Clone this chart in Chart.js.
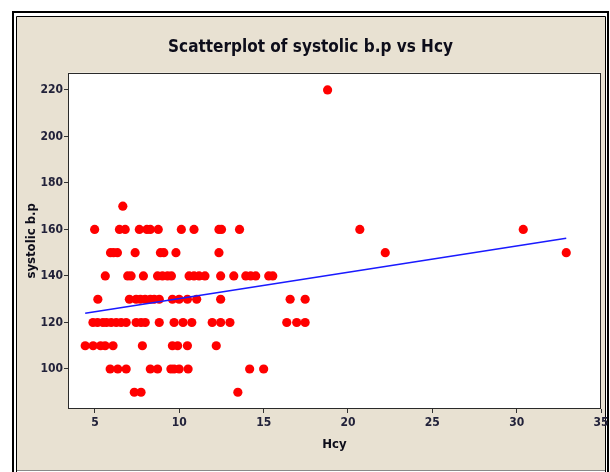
<!DOCTYPE html>
<html>
<head>
<meta charset="utf-8">
<script src="https://cdn.jsdelivr.net/npm/chart.js@4.4.1/dist/chart.umd.min.js"></script>
<style>
  html, body { margin: 0; padding: 0; background: #ffffff; }
  #wrap { width: 610px; height: 472px; position: relative; }
</style>
</head>
<body>
<div id="wrap"><canvas id="c" width="610" height="472"></canvas></div>
<script>
// ---- data ----
const hcy = [
  18.79,
  6.65,
  4.98, 6.45, 6.79, 7.63, 8.08, 8.28, 8.75, 10.12, 10.87, 12.35, 12.50, 13.57, 20.70, 30.39,
  5.92, 6.10, 6.33, 7.38, 8.88, 9.08, 9.80, 12.35, 22.21, 32.94,
  5.61, 6.94, 7.14, 7.87, 8.71, 9.00, 9.30, 9.53, 10.58, 10.87, 11.17, 11.52, 12.45, 13.23, 13.94, 14.23, 14.53, 15.30, 15.54,
  5.17, 7.04, 7.44, 7.69, 7.97, 8.28, 8.51, 8.81, 9.59, 9.99, 10.48, 11.03, 12.45, 16.57, 17.46,
  4.88, 5.15, 5.47, 5.68, 5.96, 6.26, 6.55, 6.85, 7.44, 7.73, 7.98, 8.81, 9.69, 10.22, 10.74, 11.95, 12.45, 13.00, 16.37, 16.96, 17.46,
  4.42, 4.89, 5.33, 5.60, 6.07, 7.81, 9.59, 9.90, 10.48, 12.19,
  5.90, 6.35, 6.85, 8.28, 8.71, 9.50, 9.69, 9.99, 10.52, 14.17, 15.00,
  7.33, 7.73, 13.47
];
const systolic = [
  220,
  170,
  160, 160, 160, 160, 160, 160, 160, 160, 160, 160, 160, 160, 160, 160,
  150, 150, 150, 150, 150, 150, 150, 150, 150, 150,
  140, 140, 140, 140, 140, 140, 140, 140, 140, 140, 140, 140, 140, 140, 140, 140, 140, 140, 140,
  130, 130, 130, 130, 130, 130, 130, 130, 130, 130, 130, 130, 130, 130, 130,
  120, 120, 120, 120, 120, 120, 120, 120, 120, 120, 120, 120, 120, 120, 120, 120, 120, 120, 120, 120, 120,
  110, 110, 110, 110, 110, 110, 110, 110, 110, 110,
  100, 100, 100, 100, 100, 100, 100, 100, 100, 100, 100,
  90, 90, 90
];
// fitted regression line
const fitIntercept = 119.0;
const fitSlope = 1.13;
const xTickValues = [5, 10, 15, 20, 25, 30, 35];
const yTickValues = [100, 120, 140, 160, 180, 200, 220];
const titleText = 'Scatterplot of systolic b.p vs Hcy';
const xTitle = 'Hcy';
const yTitle = 'systolic b.p';

// ---- build ----
const points = hcy.map((x, i) => ({ x: x, y: systolic[i] }));
const xMin = Math.min(...hcy), xMax = Math.max(...hcy);
const fitLine = [xMin, xMax].map(x => ({ x: x, y: fitIntercept + fitSlope * x }));

const FONT = "'DejaVu Sans Condensed', 'DejaVu Sans', sans-serif";
const BEIGE = '#e8e1d2';
const TICKCOL = '#22223a';

const framePlugin = {
  id: 'frame',
  beforeDraw(chart) {
    const ctx = chart.ctx;
    ctx.save();
    ctx.fillStyle = '#ffffff';
    ctx.fillRect(0, 0, 610, 472);
    ctx.fillStyle = BEIGE;
    ctx.fillRect(17, 17, 589, 453);
    ctx.strokeStyle = '#000000';
    ctx.lineWidth = 2;
    ctx.beginPath();
    ctx.moveTo(13, 472); ctx.lineTo(13, 12); ctx.lineTo(608, 12); ctx.lineTo(608, 472);
    ctx.stroke();
    ctx.lineWidth = 1;
    ctx.beginPath();
    ctx.moveTo(16.5, 472); ctx.lineTo(16.5, 16.5); ctx.lineTo(605.5, 16.5); ctx.lineTo(605.5, 472);
    ctx.stroke();
    ctx.strokeStyle = '#8a8a8a';
    ctx.beginPath();
    ctx.moveTo(17, 470.5); ctx.lineTo(605, 470.5);
    ctx.stroke();
    const a = chart.chartArea;
    ctx.fillStyle = '#ffffff';
    ctx.fillRect(a.left, a.top, a.right - a.left, a.bottom - a.top);
    ctx.restore();
  },
  afterDatasetsDraw(chart) {
    const ctx = chart.ctx;
    const a = chart.chartArea;
    ctx.save();
    ctx.strokeStyle = '#2a2a2a';
    ctx.lineWidth = 1;
    ctx.strokeRect(Math.round(a.left) + 0.5, Math.round(a.top) + 0.5,
                   Math.round(a.right - a.left) - 1, Math.round(a.bottom - a.top) - 1);
    ctx.restore();
  }
};

new Chart(document.getElementById('c'), {
  type: 'scatter',
  data: {
    datasets: [
      {
        type: 'line',
        data: fitLine,
        borderColor: '#1a1aff',
        borderWidth: 1.6,
        pointRadius: 0,
        fill: false,
        order: 0
      },
      {
        data: points,
        backgroundColor: '#ff0000',
        borderWidth: 0,
        pointRadius: 4.6,
        order: 1
      }
    ]
  },
  options: {
    responsive: false,
    animation: false,
    events: [],
    layout: { padding: { left: 20, right: 9, top: 37, bottom: 16 } },
    plugins: {
      legend: { display: false },
      tooltip: { enabled: false },
      title: {
        display: true,
        text: titleText,
        color: '#0d0d1a',
        font: { family: FONT, size: 17, weight: 'bold' },
        padding: { top: 0, bottom: 15.3 }
      }
    },
    scales: {
      x: {
        type: 'linear',
        min: 3.4,
        max: 35,
        afterBuildTicks(scale) { scale.ticks = xTickValues.map(v => ({ value: v })); },
        afterFit(scale) { scale.height = 47; scale.paddingRight = 0; scale.paddingLeft = 0; },
        grid: { drawOnChartArea: false, drawTicks: true, tickLength: 4, tickColor: '#333333' },
        border: { display: false },
        ticks: {
          color: TICKCOL, padding: 3, maxRotation: 0,
          font: { family: FONT, size: 12, weight: 'bold' },
          callback: v => String(v)
        },
        title: {
          display: true, text: xTitle, color: '#0d0d1a',
          font: { family: FONT, size: 13, weight: 'bold' },
          padding: { top: 0, bottom: 4 }
        }
      },
      y: {
        type: 'linear',
        min: 82.8,
        max: 227.4,
        afterBuildTicks(scale) { scale.ticks = yTickValues.map(v => ({ value: v })); },
        afterFit(scale) { scale.width = 48; },
        grid: { drawOnChartArea: false, drawTicks: true, tickLength: 4, tickColor: '#333333' },
        border: { display: false },
        ticks: {
          color: TICKCOL, padding: 1,
          font: { family: FONT, size: 12, weight: 'bold' },
          callback: v => String(v)
        },
        title: {
          display: true, text: yTitle, color: '#0d0d1a',
          font: { family: FONT, size: 13, weight: 'bold' },
          padding: { top: 4, bottom: 0 }
        }
      }
    }
  },
  plugins: [framePlugin]
});
</script>
</body>
</html>
